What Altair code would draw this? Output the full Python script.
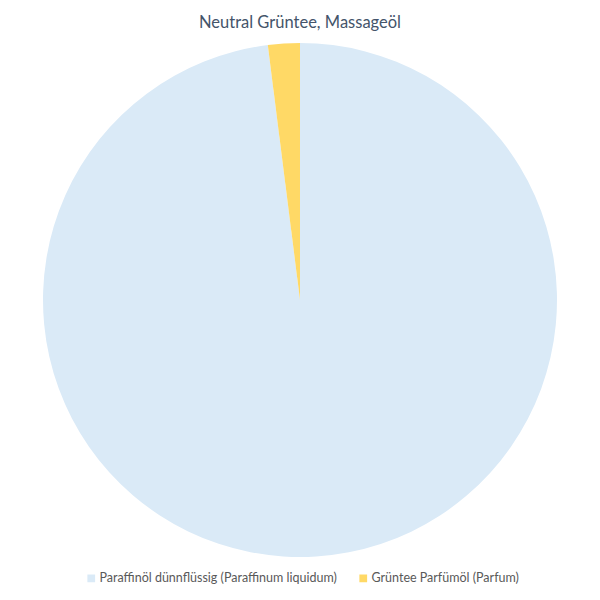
import altair as alt
import pandas as pd

categories = ["Paraffinöl dünnflüssig (Paraffinum liquidum)", "Grüntee Parfümöl (Parfum)"]
values = [98, 2]
colors = ["#DAEAF7", "#FFD966"]
order = [0, 1]

df = pd.DataFrame({"Zutat": categories, "Anteil": values, "o": order})

chart = alt.Chart(df).mark_arc(outerRadius=257).encode(
    theta=alt.Theta("Anteil:Q", stack=True),
    order=alt.Order("o:Q"),
    color=alt.Color(
        "Zutat:N",
        scale=alt.Scale(domain=categories, range=colors),
        sort=categories,
        legend=alt.Legend(
            title=None,
            orient="none",
            direction="horizontal",
            legendX=77,
            legendY=524,
            symbolType="square",
            symbolSize=60,
            symbolOffset=0,
            labelOffset=2,
            labelFont="Lato",
            labelFontSize=12.5,
            labelColor="#595959",
            labelLimit=400,
            columnPadding=20,
        ),
    ),
    x=alt.value(292),
    y=alt.value(252),
).properties(
    width=584,
    height=544,
    padding={"top": 40, "left": 0, "right": 0, "bottom": 0},
    autosize=alt.AutoSizeParams(type="none"),
    title=alt.TitleParams(
        "Neutral Grüntee, Massageöl",
        font="Lato",
        fontSize=16.5,
        fontWeight="normal",
        color="#44546A",
        anchor="middle",
        offset=12,
    ),
).configure_view(stroke=None)

chart.save("out.html", embed_options={"renderer": "svg", "actions": False})
